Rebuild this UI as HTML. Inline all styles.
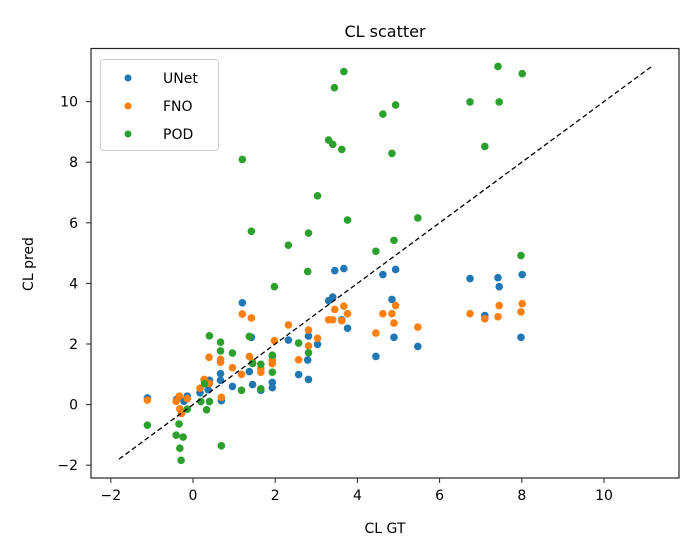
<!DOCTYPE html>
<html><head><meta charset="utf-8"><style>
body{margin:0;background:#fff}
svg{display:block;font-family:"DejaVu Sans","Liberation Sans",sans-serif}
</style></head><body>
<svg id="chart" width="700" height="560">
<rect x="0" y="0" width="700" height="560" fill="#fff"/>
<text x="385" y="37" font-size="16" text-anchor="middle">CL scatter</text>
<text x="385" y="533" font-size="14" text-anchor="middle">CL GT</text>
<text x="33" y="264" font-size="14" text-anchor="middle" transform="rotate(-90 33 264)">CL pred</text>
<g id="ticks"></g>
<g id="marks"></g>
<rect x="91" y="48.5" width="588" height="429.5" fill="none" stroke="#262626" stroke-width="1.2"/>
<g>
<rect x="100.5" y="59.5" width="118" height="91" rx="3" fill="#fff" fill-opacity="0.8" stroke="#ccc"/>
<circle cx="128" cy="78" r="3.5" fill="#1f77b4"/>
<text x="163" y="83" font-size="14">UNet</text>
<circle cx="128" cy="106" r="3.5" fill="#ff7f0e"/>
<text x="163" y="111" font-size="14">FNO</text>
<circle cx="128" cy="134" r="3.5" fill="#2ca02c"/>
<text x="163" y="139" font-size="14">POD</text>
</g>
</svg>
<script>
const xTicks = [-2, 0, 2, 4, 6, 8, 10];
const yTicks = [-2, 0, 2, 4, 6, 8, 10];
const diagonal = [-1.8, 11.2];
const unetX = [-1.11,-0.40,-0.22,-0.14,0.17,0.40,0.67,0.67,0.69,0.96,1.20,1.37,1.42,1.45,1.65,1.93,1.93,1.93,2.32,2.57,2.81,2.79,2.81,3.03,3.30,3.40,3.62,3.76,3.45,3.67,4.62,4.93,6.74,7.42,7.45,8.01,7.98,7.10,4.84,4.89,4.45,5.47,0.37];
const unetY = [0.22,0.17,0.11,0.28,0.39,0.80,1.02,0.80,0.13,0.60,3.36,1.09,2.22,0.66,0.47,1.60,0.73,0.56,2.13,0.99,0.83,1.47,2.26,1.99,3.43,3.55,2.80,2.52,4.42,4.49,4.29,4.46,4.16,4.19,3.89,4.29,2.22,2.94,3.47,2.22,1.59,1.92,0.49];
const fnoX = [-1.11,-0.41,-0.33,-0.14,-0.32,-0.28,0.17,0.27,0.40,0.39,0.67,0.67,0.69,0.96,1.18,1.20,1.42,1.37,1.45,1.65,1.65,1.93,1.93,1.98,2.32,2.57,2.81,2.81,3.03,3.30,3.40,3.45,3.62,3.67,3.76,4.62,4.84,4.93,4.89,4.45,5.47,6.74,7.10,7.42,7.45,8.01,7.98];
const fnoY = [0.15,0.11,0.28,0.20,-0.14,-0.29,0.54,0.83,0.70,1.56,1.49,1.40,0.24,1.22,1.00,2.99,2.86,1.59,1.40,1.20,1.07,1.35,1.45,2.11,2.63,1.48,2.46,1.94,2.19,2.80,2.80,3.14,2.77,3.25,3.00,3.00,3.00,3.27,2.69,2.36,2.56,3.00,2.83,2.90,3.27,3.33,3.06];
const podX = [-1.11,-0.41,-0.24,-0.34,-0.32,-0.29,-0.14,0.19,0.28,0.40,0.33,0.40,0.67,0.67,0.69,0.96,1.18,1.37,1.45,1.65,1.65,1.93,1.93,1.98,2.57,2.81,7.42,8.01,3.67,3.44,6.74,7.45,4.62,4.93,3.30,3.40,3.62,4.84,7.10,1.20,3.03,3.76,5.47,1.42,2.81,2.32,4.45,4.89,7.98,2.79];
const podY = [-0.68,-1.01,-1.07,-0.64,-1.44,-1.84,-0.15,0.10,0.69,2.27,-0.17,0.10,2.06,1.77,-1.36,1.70,0.47,2.25,1.36,1.33,0.52,1.63,1.07,3.89,2.03,1.71,11.16,10.92,10.99,10.46,9.99,9.99,9.59,9.89,8.73,8.59,8.42,8.29,8.52,8.09,6.89,6.09,6.16,5.72,5.66,5.26,5.06,5.42,4.92,4.39];

const NS = 'http://www.w3.org/2000/svg';
const x0px = 193, xScale = 41.1, y0px = 404.6, yScale = 30.3;
function sx(v){ return x0px + v * xScale; }
function sy(v){ return y0px - v * yScale; }

const tg = document.getElementById('ticks');
xTicks.forEach(t => {
  const l = document.createElementNS(NS, 'line');
  l.setAttribute('x1', sx(t)); l.setAttribute('x2', sx(t));
  l.setAttribute('y1', 478); l.setAttribute('y2', 483);
  l.setAttribute('stroke', '#262626');
  
  
  tg.appendChild(l);
  const tx = document.createElementNS(NS, 'text');
  tx.setAttribute('x', sx(t)); tx.setAttribute('y', 500);
  tx.setAttribute('font-size', '14'); tx.setAttribute('text-anchor', 'middle');
  tx.textContent = String(t).replace('-', '\u2212');
  
  
  tg.appendChild(tx);
});
yTicks.forEach(t => {
  const l = document.createElementNS(NS, 'line');
  l.setAttribute('x1', 86); l.setAttribute('x2', 91);
  l.setAttribute('y1', sy(t)); l.setAttribute('y2', sy(t));
  l.setAttribute('stroke', '#262626');
  
  
  tg.appendChild(l);
  const tx = document.createElementNS(NS, 'text');
  tx.setAttribute('x', 78); tx.setAttribute('y', sy(t) + 5);
  tx.setAttribute('font-size', '14'); tx.setAttribute('text-anchor', 'end');
  tx.textContent = String(t).replace('-', '\u2212');
  
  
  tg.appendChild(tx);
});

const mg = document.getElementById('marks');
function series(xs, ys, color, name){
  xs.forEach((v, i) => {
    const c = document.createElementNS(NS, 'circle');
    c.setAttribute('cx', sx(v)); c.setAttribute('cy', sy(ys[i]));
    c.setAttribute('r', 3.8); c.setAttribute('fill', color);
    
    
    mg.appendChild(c);
  });
}
series(unetX, unetY, '#1f77b4', 'unet-point');
series(fnoX, fnoY, '#ff7f0e', 'fno-point');
series(podX, podY, '#2ca02c', 'pod-point');
const dl = document.createElementNS(NS, 'line');
dl.setAttribute('x1', sx(diagonal[0])); dl.setAttribute('y1', sy(diagonal[0]));
dl.setAttribute('x2', sx(diagonal[1])); dl.setAttribute('y2', sy(diagonal[1]));
dl.setAttribute('stroke', '#000'); dl.setAttribute('stroke-width', '1.3');
dl.setAttribute('stroke-dasharray', '5,3');


mg.appendChild(dl);
</script>
</body></html>
